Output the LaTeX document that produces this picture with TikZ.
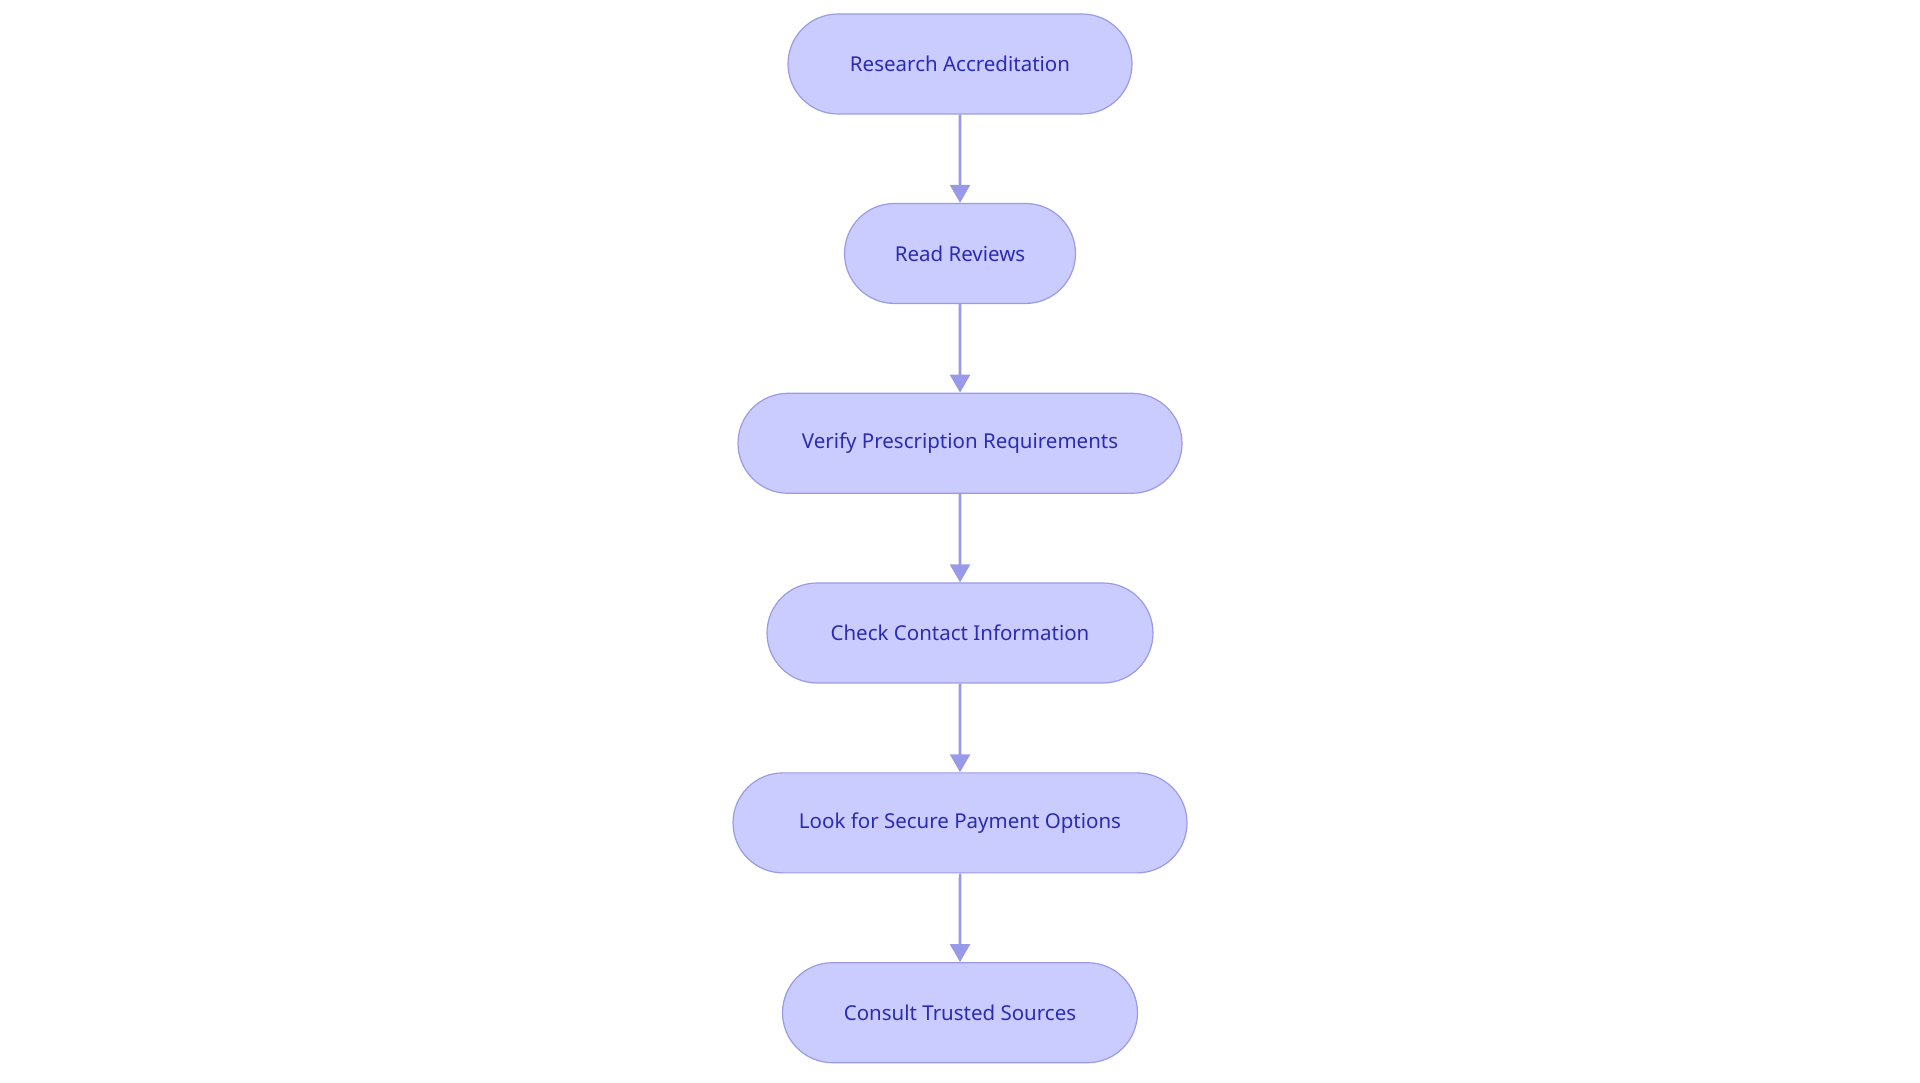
\documentclass[tikz,border=0pt]{standalone}
\usepackage{fontspec}
\setmainfont{Noto Sans}
\usetikzlibrary{shapes.misc,arrows.meta}
\definecolor{nfill}{HTML}{CACCFF}
\definecolor{nline}{HTML}{9A9BE6}
\definecolor{ntext}{HTML}{2B2BB3}
\definecolor{aline}{HTML}{9999EA}
\begin{document}
\begin{tikzpicture}[x=1pt,y=1pt,
  box/.style={rounded rectangle, draw=nline, line width=1.2pt, fill=nfill, text=ntext,
    font=\fontsize{20.5}{24}\selectfont, minimum height=100pt, inner sep=0pt},
  arr/.style={draw=aline, line width=2.6pt, -{Triangle[length=18pt,width=20pt]}}]
\useasboundingbox (0,0) rectangle (1920,1083);
\node[box, minimum width=344pt] (a) at (960,1019) {Research Accreditation};
\node[box, minimum width=231pt] (b) at (960,829.5) {Read Reviews};
\node[box, minimum width=444pt] (c) at (960,639.7) {Verify Prescription Requirements};
\node[box, minimum width=386pt] (d) at (960,450) {Check Contact Information};
\node[box, minimum width=454pt] (e) at (960,260.1) {Look for Secure Payment Options};
\node[box, minimum width=355pt] (f) at (960,70.3) {Consult Trusted Sources};
\draw[arr] (a) -- (b);
\draw[arr] (b) -- (c);
\draw[arr] (c) -- (d);
\draw[arr] (d) -- (e);
\draw[arr] (e) -- (f);
\end{tikzpicture}
\end{document}
